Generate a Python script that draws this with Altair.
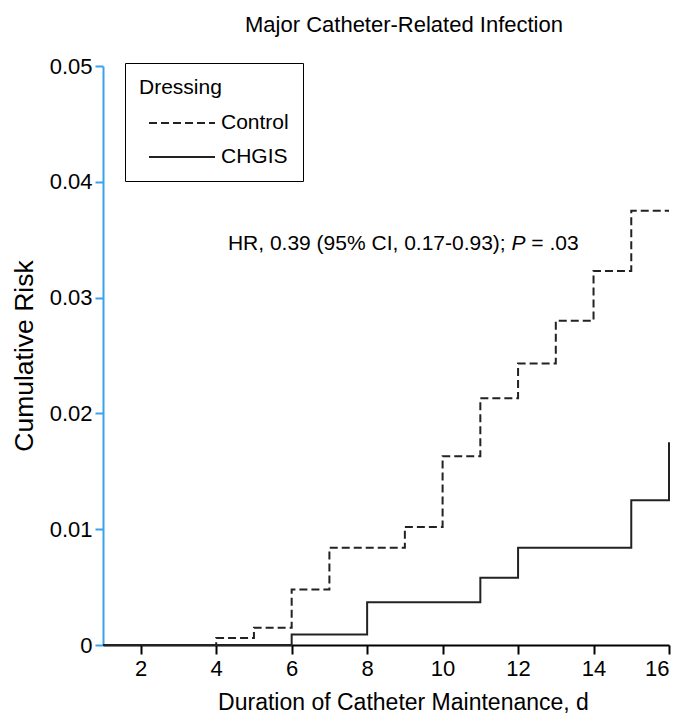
import altair as alt
import pandas as pd

# ---- data ----
control_days = [1, 4, 5, 6, 7, 9, 10, 11, 12, 13, 14, 15, 16]
control_risk = [0, 0.0006, 0.0015, 0.0048, 0.0084, 0.0102, 0.0163, 0.0213,
                0.0243, 0.0280, 0.0323, 0.0375, 0.0375]
chgis_days = [1, 6, 8, 11, 12, 15, 16]
chgis_risk = [0, 0.0009, 0.0037, 0.0058, 0.0084, 0.0125, 0.0175]
groups = ["Control", "CHGIS"]
x_ticks = [2, 4, 6, 8, 10, 12, 14, 16]
y_ticks = [0, 0.01, 0.02, 0.03, 0.04, 0.05]

title_text = "Major Catheter-Related Infection"
x_title = "Duration of Catheter Maintenance, d"
y_title = "Cumulative Risk"
ann_parts = ["HR, 0.39 (95% CI, 0.17-0.93);", "P", "= .03"]

rows = [{"day": d, "risk": r, "group": groups[0]} for d, r in zip(control_days, control_risk)]
rows += [{"day": d, "risk": r, "group": groups[1]} for d, r in zip(chgis_days, chgis_risk)]
df = pd.DataFrame(rows)

FONT = "Liberation Sans, Arial, Helvetica, sans-serif"
BLUE = "#3aa2ea"
INK = "#222222"
FS = 21

xscale = alt.Scale(domain=[1, 16], nice=False, zero=False)
yscale = alt.Scale(domain=[0, 0.05], nice=False)

lines = alt.Chart(df).mark_line(interpolate="step-after", strokeWidth=2, color=INK).encode(
    x=alt.X("day:Q", scale=xscale,
            axis=alt.Axis(values=x_ticks, title=x_title, grid=False,
                          domainColor="black", domainWidth=2, tickColor="black",
                          tickWidth=2, tickSize=9, labelFontSize=22, labelFont=FONT,
                          labelColor="black", labelPadding=4, titleFont=FONT,
                          titleFontSize=23, titleFontWeight="normal", titleColor="black",
                          titleX=300, titleY=64, titleBaseline="alphabetic",
                          titleAnchor="middle")),
    y=alt.Y("risk:Q", scale=yscale,
            axis=alt.Axis(values=y_ticks, format=".2~f", title=y_title, grid=False,
                          domainColor=BLUE, domainWidth=2, tickColor=BLUE, tickWidth=2,
                          tickSize=8, labelFontSize=22, labelFont=FONT, labelColor="black",
                          labelPadding=3, titleFont=FONT, titleFontSize=26.5,
                          titleFontWeight="normal", titleColor="black",
                          titleX=-79, titleBaseline="middle")),
    strokeDash=alt.StrokeDash(
        "group:N",
        scale=alt.Scale(domain=groups, range=[[8, 4], [1, 0]]),
        legend=alt.Legend(title="Dressing", orient="none", legendX=22, legendY=-3,
                          symbolType="M-3,0H3", symbolSize=484, symbolStrokeWidth=2,
                          symbolStrokeColor=INK, symbolOffset=31, labelOffset=27,
                          labelFont=FONT, labelFontSize=FS, labelColor="black",
                          titleFont=FONT, titleFontSize=FS, titleFontWeight="normal",
                          titleColor="black", titlePadding=13, rowPadding=12,
                          padding=14, strokeColor="black", fillColor="white",
                          cornerRadius=0),
    ),
)

ann_df = pd.DataFrame({"x": [4.31], "y": [0.0346]})
base_ann = alt.Chart(ann_df).encode(x=alt.X("x:Q", scale=xscale), y=alt.Y("y:Q", scale=yscale))
t1 = base_ann.mark_text(text=ann_parts[0], align="left", baseline="middle",
                        font=FONT, fontSize=FS, color="black")
t2 = base_ann.mark_text(text=ann_parts[1], align="left", baseline="middle", dx=283.6,
                        font=FONT, fontSize=FS, fontStyle="italic", color="black")
t3 = base_ann.mark_text(text=ann_parts[2], align="left", baseline="middle", dx=303.4,
                        font=FONT, fontSize=FS, color="black")

chart = alt.layer(lines, t1, t2, t3).properties(
    width=566, height=579,
    title=alt.TitleParams(title_text, font=FONT, fontSize=22, fontWeight="normal",
                          color="black", anchor="middle", frame="group", dx=18,
                          baseline="alphabetic", offset=1),
    autosize=alt.AutoSizeParams(type="none"),
    padding={"left": 95, "top": 58, "right": 8, "bottom": 68},
).configure(background="white").configure_view(stroke=None)

chart.save("out.html", embed_options={"renderer": "svg", "actions": False})
